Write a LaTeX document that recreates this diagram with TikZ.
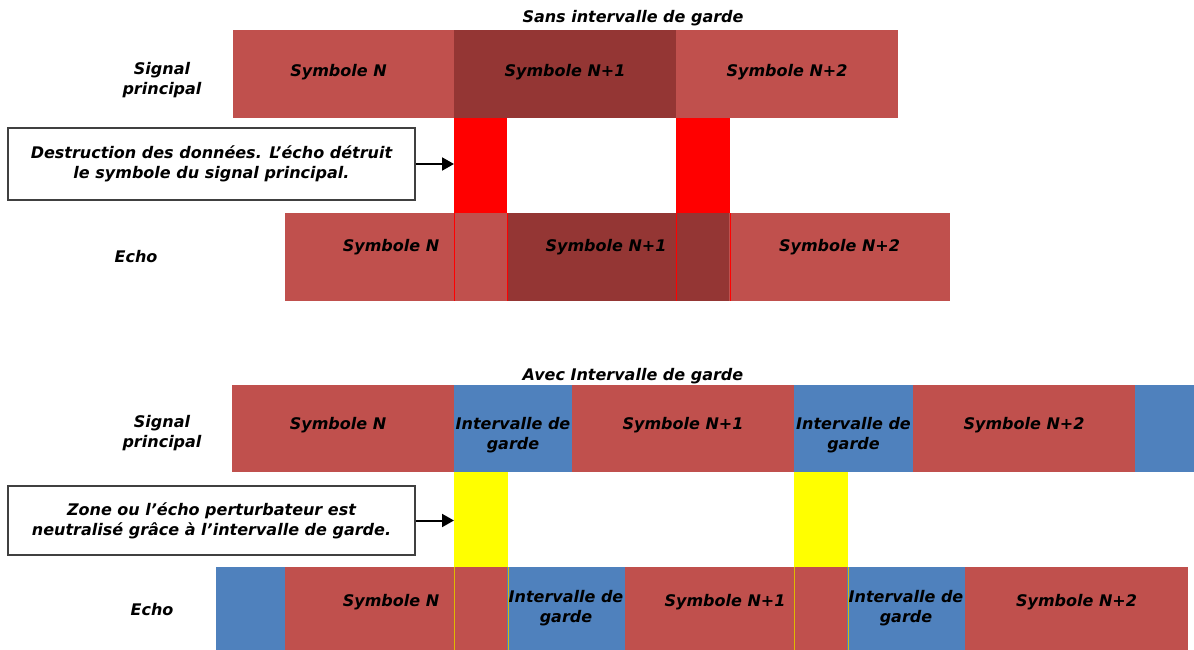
\documentclass[tikz,border=0pt]{standalone}
\usepackage{fontspec}
\setmainfont{DejaVu Sans}[BoldItalicFont={DejaVu Sans Bold Oblique},ItalicFont={DejaVu Sans Oblique}]
\usetikzlibrary{arrows.meta,positioning}
\definecolor{rougeclair}{HTML}{C0504D}
\definecolor{rougefonce}{HTML}{943634}
\definecolor{bleu}{HTML}{4F81BD}
\definecolor{jaune}{HTML}{FFFF00}
\definecolor{or}{HTML}{E0B800}
\definecolor{cadre}{HTML}{404040}
\tikzset{
  txt/.style={font=\fontsize{16}{20}\selectfont\bfseries\itshape,align=center,inner sep=0pt},
  bloc/.style={txt,anchor=north west,outer sep=0pt,minimum height=#1},
  bloc/.default=88pt,
  monte/.style={text depth=#1},
  baisse/.style={text height=#1},
  zone/.style={anchor=north west,inner sep=0pt,outer sep=0pt,minimum height=95pt},
  boite/.style={txt,draw=cadre,line width=1.5pt,minimum width=407pt},
  fleche/.style={line width=2pt,-{Triangle[length=12pt,width=13pt]}},
  trait/.style={line width=1pt},
}
\begin{document}
\begin{tikzpicture}[x=1pt,y=-1pt]
  \useasboundingbox (0,0) rectangle (1194,650);
  % Sans intervalle de garde
  \node[txt] (t1) at (633,18) {Sans intervalle de garde};
  \node[txt] (sp1) at (162,80) {Signal\\principal};
  \node[bloc,monte=8pt,fill=rougeclair,minimum width=221pt] (s1n) at (233,30) {Symbole N\hspace*{10pt}};
  \node[bloc,monte=8pt,fill=rougefonce,minimum width=222pt] (s1n1) at (454,30) {Symbole N+1};
  \node[bloc,monte=8pt,fill=rougeclair,minimum width=222pt] (s1n2) at (676,30) {Symbole N+2};
  \node[zone,fill=red,minimum width=53pt] (z1) at (454,118) {};
  \node[zone,fill=red,minimum width=54pt] (z2) at (676,118) {};
  \node[txt] (e1) at (136,257) {Echo};
  \node[bloc,monte=23pt,fill=rougeclair,minimum width=222pt] (e1n) at (285,213) {Symbole N\hspace*{10pt}};
  \node[bloc,monte=23pt,fill=rougefonce,minimum width=222pt] (e1n1) at (507,213) {Symbole N+1\hspace*{24pt}};
  \node[bloc,monte=23pt,fill=rougeclair,minimum width=221pt] (e1n2) at (729,213) {Symbole N+2};
  \foreach \z in {z1,z2}
    \draw[trait,red] (\z.south west) -- (\z.south west |- e1n.south)
      (\z.south east) -- (\z.south east |- e1n.south);
  \node[boite,minimum height=72pt] (b1) at (211.5,164)
    {Destruction des données. L’écho détruit\\le symbole du signal principal.};
  \draw[fleche] (b1.east) -- (b1.east -| z1.west);
  % Avec intervalle de garde
  \node[txt] (t2) at (633,376) {Avec Intervalle de garde};
  \node[txt] (sp2) at (162,433) {Signal\\principal};
  \node[bloc=87pt,monte=10pt,fill=rougeclair,minimum width=222pt] (s2n) at (232,385) {Symbole N\hspace*{10pt}};
  \node[bloc=87pt,baisse=46pt,fill=bleu,minimum width=118pt] (s2g) at (454,385) {Intervalle de\\garde};
  \node[bloc=87pt,monte=10pt,fill=rougeclair,minimum width=222pt] (s2n1) at (572,385) {Symbole N+1};
  \node[bloc=87pt,baisse=46pt,fill=bleu,minimum width=119pt] (s2g1) at (794,385) {Intervalle de\\garde};
  \node[bloc=87pt,monte=10pt,fill=rougeclair,minimum width=222pt] (s2n2) at (913,385) {Symbole N+2};
  \node[bloc=87pt,fill=bleu,minimum width=59pt] (s2g2) at (1135,385) {};
  \node[zone,fill=jaune,minimum width=54pt] (y1) at (454,472) {};
  \node[zone,fill=jaune,minimum width=54pt] (y2) at (794,472) {};
  \node[txt] (e2) at (152,610) {Echo};
  \node[bloc=83pt,fill=bleu,minimum width=69pt] (e2g) at (216,567) {};
  \node[bloc=83pt,monte=17pt,fill=rougeclair,minimum width=222pt] (e2n) at (285,567) {Symbole N\hspace*{10pt}};
  \node[bloc=83pt,fill=bleu,minimum width=118pt] (e2g1) at (507,567) {Intervalle de\\garde};
  \node[bloc=83pt,monte=17pt,fill=rougeclair,minimum width=222pt] (e2n1) at (625,567) {Symbole N+1\hspace*{22pt}};
  \node[bloc=83pt,fill=bleu,minimum width=118pt] (e2g2) at (847,567) {Intervalle de\\garde};
  \node[bloc=83pt,monte=17pt,fill=rougeclair,minimum width=223pt] (e2n2) at (965,567) {Symbole N+2};
  \foreach \z in {y1,y2}
    \draw[trait,or] (\z.south west) -- (\z.south west |- e2n.south)
      (\z.south east) -- (\z.south east |- e2n.south);
  \node[boite,minimum height=69pt] (b2) at (211.5,520.5)
    {Zone ou l’écho perturbateur est\\neutralisé grâce à l’intervalle de garde.};
  \draw[fleche] (b2.east) -- (b2.east -| y1.west);
\end{tikzpicture}
\end{document}
